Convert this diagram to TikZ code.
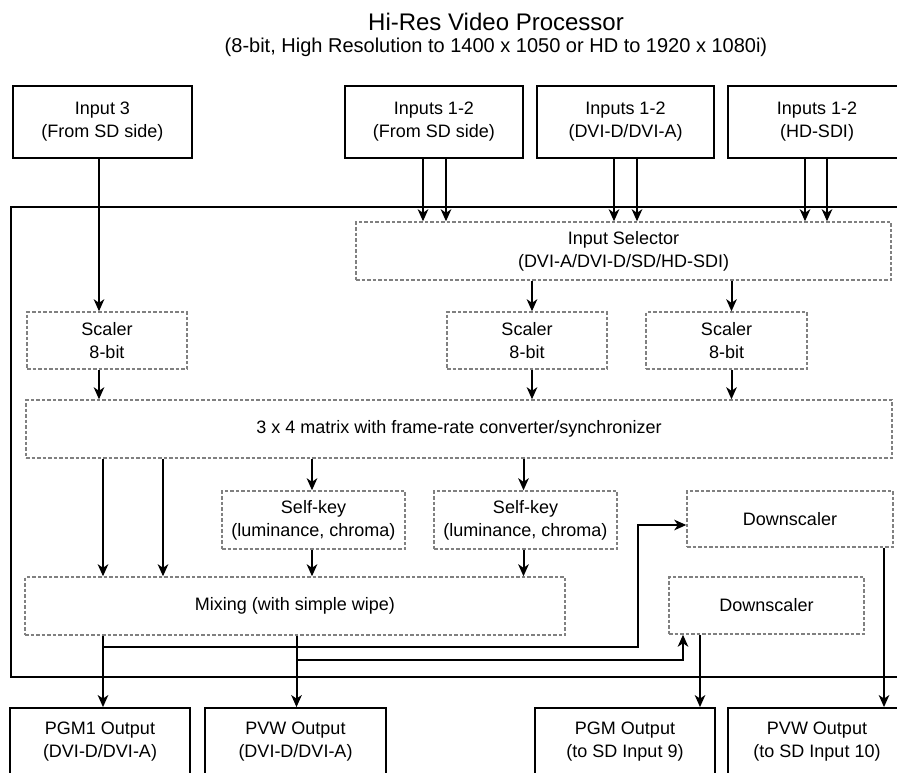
\documentclass[tikz,border=0pt]{standalone}
\usepackage{fontspec}
\setmainfont{Liberation Sans}
\usetikzlibrary{arrows.meta,positioning}
\newcommand{\dashcolor}{gray}
\newcommand{\boxline}{1.8pt}
\newcommand{\bodyfont}{\fontsize{18}{23}\selectfont}

\begin{document}
\begin{tikzpicture}[x=1pt,y=-1pt,
  solidbox/.style={draw, line width=\boxline, fill=white, align=center, inner sep=0pt, font=\bodyfont},
  dashbox/.style={draw=\dashcolor, line width=1.4pt, dash pattern=on 3.5pt off 2pt, fill=white, align=center, inner sep=0pt, font=\bodyfont},
  conn/.style={line width=2pt, -{Stealth[length=12pt,width=10.5pt,inset=3.5pt]}}]
\useasboundingbox (0,0) rectangle (897,772);
% title
\node (title) at (496,22) {\fontsize{24}{28}\selectfont Hi-Res Video Processor};
\node (subtitle) at (496,47) {\fontsize{20}{24}\selectfont (8-bit, High Resolution to 1400 x 1050 or HD to 1920 x 1080i)};
% processor frame
\node[draw, line width=\boxline, minimum width=894pt, minimum height=470pt, inner sep=0pt] (proc) at (458,442) {};
% inputs
\node[solidbox, minimum width=179pt, minimum height=72pt] (in3) at (102.5,122) {Input 3\\(From SD side)};
\node[solidbox, minimum width=178pt, minimum height=72pt] (insd) at (434,122) {Inputs 1-2\\(From SD side)};
\node[solidbox, minimum width=177pt, minimum height=72pt] (indvi) at (625.5,122) {Inputs 1-2\\(DVI-D/DVI-A)};
\node[solidbox, minimum width=178pt, minimum height=72pt] (inhd) at (817,122) {Inputs 1-2\\(HD-SDI)};
% inner blocks
\node[dashbox, minimum width=535pt, minimum height=58pt] (sel) at (623.5,251) {Input Selector\\(DVI-A/DVI-D/SD/HD-SDI)};
\node[dashbox, minimum width=160pt, minimum height=57pt] (scl1) at (107,340.5) {Scaler\\8-bit};
\node[dashbox, minimum width=160pt, minimum height=57pt] (scl2) at (527,340.5) {Scaler\\8-bit};
\node[dashbox, minimum width=161pt, minimum height=57pt] (scl3) at (726.5,340.5) {Scaler\\8-bit};
\node[dashbox, minimum width=866pt, minimum height=58pt] (mat) at (459,429) {3 x 4 matrix with frame-rate converter/synchronizer};
\node[dashbox, minimum width=183pt, minimum height=58pt] (key1) at (313.5,520) {Self-key\\(luminance, chroma)};
\node[dashbox, minimum width=183pt, minimum height=58pt] (key2) at (525.5,520) {Self-key\\(luminance, chroma)};
\node[dashbox, minimum width=540pt, minimum height=58pt] (mix) at (295,606) {Mixing (with simple wipe)};
\node[dashbox, minimum width=206pt, minimum height=56pt] (dsc1) at (790,519) {Downscaler};
\node[dashbox, minimum width=195pt, minimum height=57pt] (dsc2) at (766.5,605.5) {Downscaler};
% outputs
\node[solidbox, minimum width=180pt, minimum height=68pt] (out1) at (100,742) {PGM1 Output\\(DVI-D/DVI-A)};
\node[solidbox, minimum width=181pt, minimum height=68pt] (out2) at (295.5,742) {PVW Output\\(DVI-D/DVI-A)};
\node[solidbox, minimum width=180pt, minimum height=68pt] (out3) at (625,742) {PGM Output\\(to SD Input 9)};
\node[solidbox, minimum width=178pt, minimum height=68pt] (out4) at (817,742) {PVW Output\\(to SD Input 10)};
% input links
\draw[conn] ([xshift=-3.5pt]in3.south) -- ([xshift=-3.5pt]in3.south |- scl1.north);
\draw[conn] ([xshift=-11pt]insd.south) -- ([xshift=-11pt]insd.south |- sel.north);
\draw[conn] ([xshift=12pt]insd.south) -- ([xshift=12pt]insd.south |- sel.north);
\draw[conn] ([xshift=-11.5pt]indvi.south) -- ([xshift=-11.5pt]indvi.south |- sel.north);
\draw[conn] ([xshift=11.5pt]indvi.south) -- ([xshift=11.5pt]indvi.south |- sel.north);
\draw[conn] ([xshift=-12pt]inhd.south) -- ([xshift=-12pt]inhd.south |- sel.north);
\draw[conn] ([xshift=10pt]inhd.south) -- ([xshift=10pt]inhd.south |- sel.north);
% selector to scalers to matrix
\draw[conn] ([xshift=5pt]scl2.north |- sel.south) -- ([xshift=5pt]scl2.north);
\draw[conn] ([xshift=5pt]scl3.north |- sel.south) -- ([xshift=5pt]scl3.north);
\draw[conn] ([xshift=-8pt]scl1.south) -- ([xshift=-8pt]scl1.south |- mat.north);
\draw[conn] ([xshift=5pt]scl2.south) -- ([xshift=5pt]scl2.south |- mat.north);
\draw[conn] ([xshift=5pt]scl3.south) -- ([xshift=5pt]scl3.south |- mat.north);
% matrix to keys and mixing
\draw[conn] ([xshift=-192pt]mix.north |- mat.south) -- ([xshift=-192pt]mix.north);
\draw[conn] ([xshift=-132pt]mix.north |- mat.south) -- ([xshift=-132pt]mix.north);
\draw[conn] ([xshift=-1.5pt]key1.north |- mat.south) -- ([xshift=-1.5pt]key1.north);
\draw[conn] ([xshift=-2pt]key2.north |- mat.south) -- ([xshift=-2pt]key2.north);
\draw[conn] ([xshift=-1.5pt]key1.south) -- ([xshift=-1.5pt]key1.south |- mix.north);
\draw[conn] ([xshift=-2pt]key2.south) -- ([xshift=-2pt]key2.south |- mix.north);
% mixing to outputs and downscalers
\coordinate (j1) at (103,647);
\coordinate (j2) at (296.5,660);
\draw[conn] ([xshift=-192pt]mix.south) -- ([xshift=-192pt]mix.south |- out1.north);
\draw[conn] ([xshift=1.5pt]mix.south) -- ([xshift=1.5pt]mix.south |- out2.north);
\draw[conn] (j1) -- ++(535,0) |- ([yshift=-6pt]dsc1.west);
\draw[conn] (j2) -| ([xshift=-83.5pt]dsc2.south);
\draw[conn] ([xshift=-66.5pt]dsc2.south) -- ([xshift=-66.5pt]dsc2.south |- out3.north);
\draw[conn] ([xshift=94pt]dsc1.south) -- ([xshift=94pt]dsc1.south |- out4.north);
\end{tikzpicture}
\end{document}
